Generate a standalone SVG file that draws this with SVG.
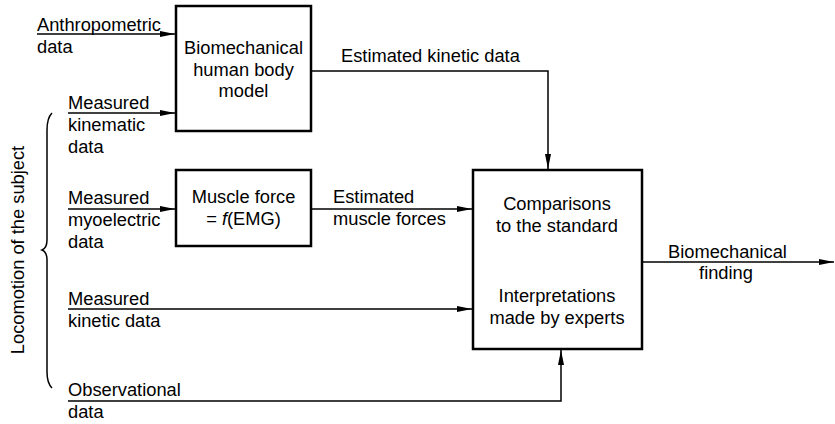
<svg xmlns="http://www.w3.org/2000/svg" width="835" height="424" viewBox="0 0 835 424">
<style>
text{font-family:"Liberation Sans",Arial,sans-serif;font-size:18.3px;fill:#000}
.c{text-anchor:middle}
.box{fill:#fff;stroke:#000;stroke-width:2.5}
.ln{fill:none;stroke:#000;stroke-width:1.5}
</style>
<defs>
<marker id="ah" markerUnits="userSpaceOnUse" markerWidth="16" markerHeight="8" refX="15" refY="3" orient="auto">
<path d="M0,0 L15,3 L0,6 Z" fill="#000"/>
</marker>
</defs>
<rect width="835" height="424" fill="#fff"/>
<g id="connectors">
<path class="ln" d="M37,34 H175" marker-end="url(#ah)"/>
<path class="ln" d="M68,113 H175" marker-end="url(#ah)"/>
<path class="ln" d="M68,209 H175" marker-end="url(#ah)"/>
<path class="ln" d="M311,209 H472" marker-end="url(#ah)"/>
<path class="ln" d="M68,309 H472" marker-end="url(#ah)"/>
<path class="ln" d="M311,71 H548 V169" marker-end="url(#ah)"/>
<path class="ln" d="M68,401 H561 V350" marker-end="url(#ah)"/>
<path class="ln" d="M642,262 H834" marker-end="url(#ah)"/>
</g>
<g id="brace">
<path class="ln" d="M52,113 Q47,118 47,130 V240 Q47,248 42,250 Q47,252 47,260 V372 Q47,383 52,388"/>
<text transform="translate(24,250) rotate(-90)" class="c">Locomotion of the subject</text>
</g>
<g id="in-anthro">
<text x="37" y="31">Anthropometric</text>
<text x="37" y="53">data</text>
</g>
<g id="in-kinematic">
<text x="68" y="109">Measured</text>
<text x="68" y="131">kinematic</text>
<text x="68" y="153">data</text>
</g>
<g id="in-myo">
<text x="68" y="204">Measured</text>
<text x="68" y="226">myoelectric</text>
<text x="68" y="248">data</text>
</g>
<g id="in-kinetic">
<text x="68" y="305">Measured</text>
<text x="68" y="327">kinetic data</text>
</g>
<g id="in-obs">
<text x="68" y="396">Observational</text>
<text x="68" y="418">data</text>
</g>
<g id="model">
<rect class="box" x="176" y="6" width="135" height="125"/>
<text class="c" x="243.5" y="54">Biomechanical</text>
<text class="c" x="243.5" y="76">human body</text>
<text class="c" x="243.5" y="97">model</text>
</g>
<g id="muscle">
<rect class="box" x="176" y="170" width="135" height="76"/>
<text class="c" x="243.5" y="203">Muscle force</text>
<text class="c" x="243.5" y="225">= <tspan font-style="italic">f</tspan>(EMG)</text>
</g>
<g id="label-kinetic">
<text x="341" y="62">Estimated kinetic data</text>
</g>
<g id="label-forces">
<text x="333" y="203">Estimated</text>
<text x="333" y="225">muscle forces</text>
</g>
<g id="compare">
<rect class="box" x="473" y="170" width="169" height="179"/>
<text class="c" x="557" y="210">Comparisons</text>
<text class="c" x="557" y="232">to the standard</text>
<text class="c" x="557" y="302">Interpretations</text>
<text class="c" x="557" y="324">made by experts</text>
</g>
<g id="out">
<text x="668" y="258">Biomechanical</text>
<text class="c" x="726" y="279">finding</text>
</g>
</svg>
